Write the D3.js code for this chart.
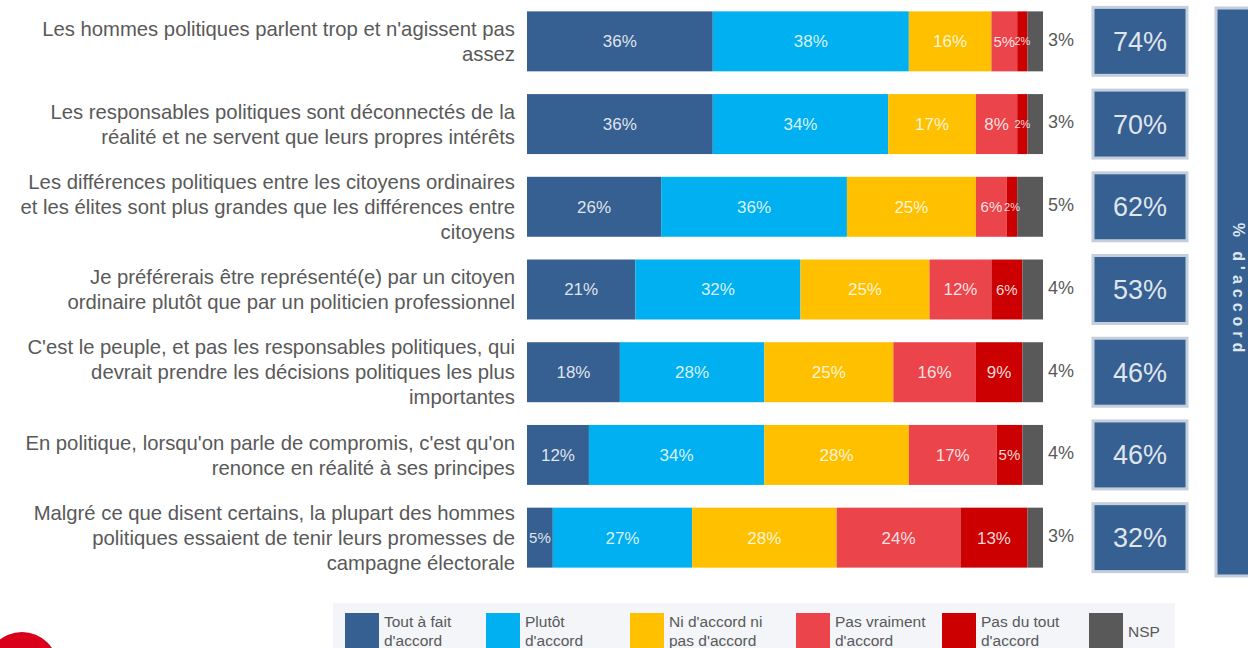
<!DOCTYPE html>
<html>
<head>
<meta charset="utf-8">
<script src="https://cdn.jsdelivr.net/npm/d3@7"></script>
<style>
  html, body { margin: 0; padding: 0; background: #fff; }
  svg { display: block; font-family: "Liberation Sans", Arial, sans-serif; }
</style>
</head>
<body>
<svg id="chart"></svg>
<script>
const width = 1248;
const height = 648;

// Data
const statements = [
  ["Les hommes politiques parlent trop et n'agissent pas", "assez"],
  ["Les responsables politiques sont déconnectés de la", "réalité et ne servent que leurs propres intérêts"],
  ["Les différences politiques entre les citoyens ordinaires", "et les élites sont plus grandes que les différences entre", "citoyens"],
  ["Je préférerais être représenté(e) par un citoyen", "ordinaire plutôt que par un politicien professionnel"],
  ["C'est le peuple, et pas les responsables politiques, qui", "devrait prendre les décisions politiques les plus", "importantes"],
  ["En politique, lorsqu'on parle de compromis, c'est qu'on", "renonce en réalité à ses principes"],
  ["Malgré ce que disent certains, la plupart des hommes", "politiques essaient de tenir leurs promesses de", "campagne électorale"]
];
const categories = ["toutAFait", "plutot", "ni", "pasVraiment", "pasDuTout", "nsp"];
const legendLabels = [
  ["Tout à fait", "d'accord"],
  ["Plutôt", "d'accord"],
  ["Ni d'accord ni", "pas d'accord"],
  ["Pas vraiment", "d'accord"],
  ["Pas du tout", "d'accord"],
  ["NSP"]
];
const toutAFait   = [36, 36, 26, 21, 18, 12, 5];
const plutot      = [38, 34, 36, 32, 28, 34, 27];
const ni          = [16, 17, 25, 25, 25, 28, 28];
const pasVraiment = [5, 8, 6, 12, 16, 17, 24];
const pasDuTout   = [2, 2, 2, 6, 9, 5, 13];
const nsp         = [3, 3, 5, 4, 4, 4, 3];
const totalAccord = [74, 70, 62, 53, 46, 46, 32];
const sideTitle = "% d'accord";

const colors = ["#376092", "#00B0F0", "#FFC000", "#EB444A", "#CC0000", "#595959"];
const textGray = "#595959";

// table for the stack
const rows = statements.map((s, i) => ({
  id: i,
  toutAFait: toutAFait[i], plutot: plutot[i], ni: ni[i],
  pasVraiment: pasVraiment[i], pasDuTout: pasDuTout[i], nsp: nsp[i]
}));

const svg = d3.select("#chart")
  .attr("width", width)
  .attr("height", height)
  .attr("viewBox", `0 0 ${width} ${height}`);

// Scales
const y = d3.scaleBand()
  .domain(rows.map(d => d.id))
  .range([0, 579])
  .paddingInner(0.275)
  .paddingOuter(0.1375);

const x = d3.scaleLinear().domain([0, 100]).range([527, 1043]);

const color = d3.scaleOrdinal().domain(categories).range(colors);

const series = d3.stack().keys(categories)(rows);

// Statement labels (left axis)
const axis = svg.append("g")
  .attr("transform", `translate(515,0)`)
  .call(d3.axisLeft(y).tickSize(0).tickPadding(0).tickFormat(""));
axis.select(".domain").remove();
axis.selectAll(".tick").each(function(id) {
  const lines = statements[id];
  const t = d3.select(this).select("text")
    .attr("fill", textGray)
    .attr("font-size", 20.3)
    .attr("text-anchor", "end")
    .attr("font-family", "Liberation Sans, Arial, sans-serif")
    .attr("dy", null);
  const lh = 25;
  const off = -(lines.length - 1) * lh / 2;
  lines.forEach((l, k) => {
    t.append("tspan")
      .attr("x", 0)
      .attr("y", off + k * lh)
      .attr("dy", "0.35em")
      .text(l);
  });
});

// Bars
const layer = svg.append("g").selectAll("g")
  .data(series)
  .join("g")
  .attr("fill", d => color(d.key));

layer.selectAll("rect")
  .data(d => d)
  .join("rect")
  .attr("x", d => x(d[0]))
  .attr("y", d => y(d.data.id))
  .attr("width", d => x(d[1]) - x(d[0]))
  .attr("height", y.bandwidth());

// Labels inside segments (all but NSP), smaller in narrow segments
const labelSize = v => v < 3 ? 11 : v < 7 ? 15 : 17;
series.filter(s => s.key !== "nsp").forEach(s => {
  svg.append("g").selectAll("text")
    .data(s)
    .join("text")
    .attr("x", d => (x(d[0]) + x(d[1])) / 2)
    .attr("y", d => y(d.data.id) + y.bandwidth() / 2)
    .attr("dy", "0.35em")
    .attr("text-anchor", "middle")
    .attr("fill", "#fff")
    .attr("fill-opacity", 0.85)
    .attr("font-size", d => labelSize(d[1] - d[0]))
    .text(d => (d[1] - d[0]) + "%");
});

// NSP labels outside
svg.append("g").selectAll("text")
  .data(rows)
  .join("text")
  .attr("x", x(100) + 5)
  .attr("y", d => y(d.id) + y.bandwidth() / 2 - 2)
  .attr("dy", "0.35em")
  .attr("fill", textGray)
  .attr("font-size", 18)
  .text(d => nsp[d.id] + "%");

// Total d'accord boxes
const boxes = svg.append("g").selectAll("g")
  .data(rows)
  .join("g");

boxes.append("rect")
  .attr("x", 1093)
  .attr("y", d => y(d.id) - 4)
  .attr("width", 94)
  .attr("height", y.bandwidth() + 8)
  .attr("fill", colors[0])
  .attr("stroke", "#c5cfdc")
  .attr("stroke-width", 3);

boxes.append("text")
  .attr("x", 1140)
  .attr("y", d => y(d.id) + y.bandwidth() / 2)
  .attr("dy", "0.35em")
  .attr("text-anchor", "middle")
  .attr("fill", "#fff")
  .attr("fill-opacity", 0.85)
  .attr("font-size", 27)
  .text(d => totalAccord[d.id] + "%");

// Side title bar
svg.append("rect")
  .attr("x", 1216)
  .attr("y", 8)
  .attr("width", 50)
  .attr("height", 568)
  .attr("fill", colors[0])
  .attr("stroke", "#c5cfdc")
  .attr("stroke-width", 3);

svg.append("text")
  .attr("transform", `translate(1233,290) rotate(90)`)
  .attr("text-anchor", "middle")
  .attr("fill", "#dfe6ef")
  .attr("font-size", 16)
  .attr("font-weight", "bold")
  .attr("letter-spacing", 5)
  .text(sideTitle);

// Legend
const legendX = [345, 486, 630, 796, 942, 1089];
svg.append("rect")
  .attr("x", 333)
  .attr("y", 603)
  .attr("width", 842)
  .attr("height", 60)
  .attr("fill", "#f3f5f8");

const leg = svg.append("g").selectAll("g")
  .data(categories)
  .join("g")
  .attr("transform", (d, i) => `translate(${legendX[i]},613)`);

leg.append("rect")
  .attr("width", 34)
  .attr("height", 40)
  .attr("fill", d => color(d));

leg.each(function(d, i) {
  const lines = legendLabels[i];
  const t = d3.select(this).append("text")
    .attr("fill", textGray)
    .attr("font-size", 15.5);
  lines.forEach((l, k) => {
    t.append("tspan")
      .attr("x", 39)
      .attr("y", lines.length === 1 ? 19 : 9 + k * 19)
      .attr("dy", "0.35em")
      .text(l);
  });
});

// logo fragment
svg.append("circle")
  .attr("cx", 22)
  .attr("cy", 668)
  .attr("r", 36)
  .attr("fill", "#D9001B");
</script>
</body>
</html>
